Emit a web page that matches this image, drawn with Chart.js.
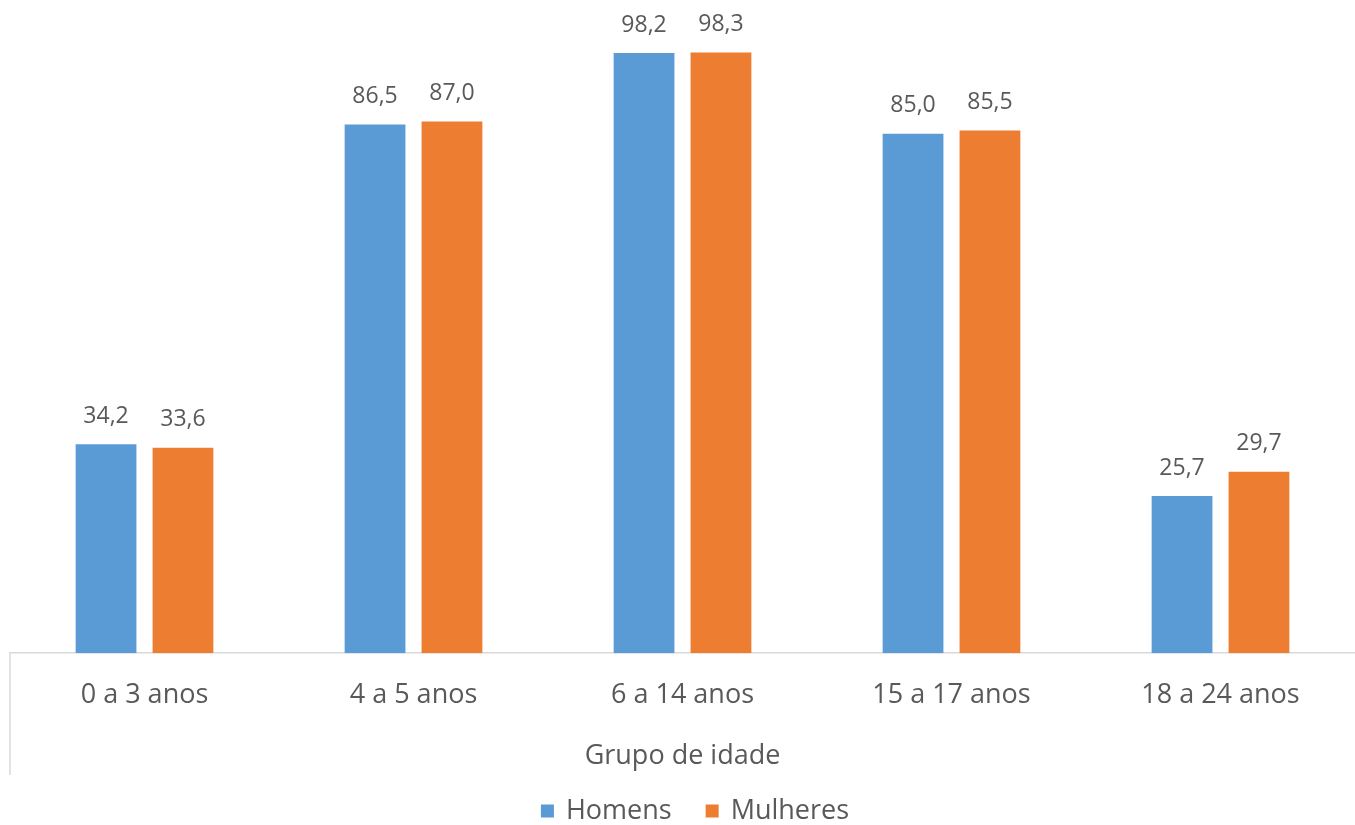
<!DOCTYPE html>
<html>
<head>
<meta charset="utf-8">
<script src="https://cdn.jsdelivr.net/npm/chart.js@4.4.1/dist/chart.umd.min.js"></script>
<style>
  html, body { margin: 0; padding: 0; background: #fff; }
  #wrap { width: 1355px; height: 825px; }
</style>
</head>
<body>
<div id="wrap"><canvas id="chart"></canvas></div>
<script>
// Frequência escolar por grupo de idade e sexo
const categories = ['0 a 3 anos', '4 a 5 anos', '6 a 14 anos', '15 a 17 anos', '18 a 24 anos'];
const homens = [34.2, 86.5, 98.2, 85.0, 25.7];
const mulheres = [33.6, 87.0, 98.3, 85.5, 29.7];
const seriesNames = ['Homens', 'Mulheres'];
const seriesColors = ['#5B9BD5', '#ED7D31'];

const textColor = '#595959';
const fontFamily = '"Open Sans", "Liberation Sans", sans-serif';

// value labels above bars, comma decimal
const valueLabels = {
    id: 'valueLabels',
    afterDatasetsDraw(chart) {
        const ctx = chart.ctx;
        ctx.save();
        ctx.fillStyle = textColor;
        ctx.font = '23px ' + fontFamily;
        ctx.textAlign = 'center';
        ctx.textBaseline = 'middle';
        chart.data.datasets.forEach((ds, i) => {
            chart.getDatasetMeta(i).data.forEach((bar, j) => {
                const txt = ds.data[j].toFixed(1).replace('.', ',');
                ctx.fillText(txt, bar.x, bar.y - 28);
            });
        });
        ctx.restore();
    }
};

// left border under the category axis + bottom legend
const axisFrame = {
    id: 'axisFrame',
    afterDraw(chart) {
        const ctx = chart.ctx;
        const a = chart.chartArea;
        ctx.save();
        ctx.strokeStyle = '#d9d9d9';
        ctx.lineWidth = 1.5;
        ctx.beginPath();
        ctx.moveTo(a.left, a.bottom);
        ctx.lineTo(a.left, 775);
        ctx.stroke();

        // legend
        ctx.font = '27px ' + fontFamily;
        ctx.textBaseline = 'middle';
        ctx.textAlign = 'left';
        const box = 13, gapText = 12, gapItem = 34;
        const widths = seriesNames.map(n => ctx.measureText(n).width);
        let total = 0;
        widths.forEach((w, i) => { total += box + gapText + w + (i ? gapItem : 0); });
        let x = 695 - total / 2;
        const y = 811;
        seriesNames.forEach((n, i) => {
            ctx.fillStyle = seriesColors[i];
            ctx.fillRect(x, y - box / 2, box, box);
            x += box + gapText;
            ctx.fillStyle = textColor;
            ctx.fillText(n, x, y);
            x += widths[i] + gapItem;
        });
        ctx.restore();
    }
};

new Chart(document.getElementById('chart'), {
    type: 'bar',
    data: {
        labels: categories,
        datasets: [
            { label: seriesNames[0], data: homens, backgroundColor: seriesColors[0] },
            { label: seriesNames[1], data: mulheres, backgroundColor: seriesColors[1] }
        ]
    },
    options: {
        responsive: true,
        maintainAspectRatio: false,
        animation: false,
        devicePixelRatio: 1,
        categoryPercentage: 0.572,
        barPercentage: 0.79,
        layout: { padding: { left: 10, right: 0, top: 42, bottom: 42 } },
        scales: {
            y: { display: false, min: 0, max: 100 },
            x: {
                grid: { display: false },
                border: { color: '#d9d9d9', width: 1.5 },
                ticks: { color: textColor, font: { family: fontFamily, size: 27 }, padding: 18 },
                title: {
                    display: true,
                    text: 'Grupo de idade',
                    color: textColor,
                    font: { family: fontFamily, size: 27 },
                    padding: { top: 11, bottom: 10 }
                }
            }
        },
        plugins: {
            legend: { display: false },
            tooltip: { enabled: false }
        }
    },
    plugins: [valueLabels, axisFrame]
});
</script>
</body>
</html>
